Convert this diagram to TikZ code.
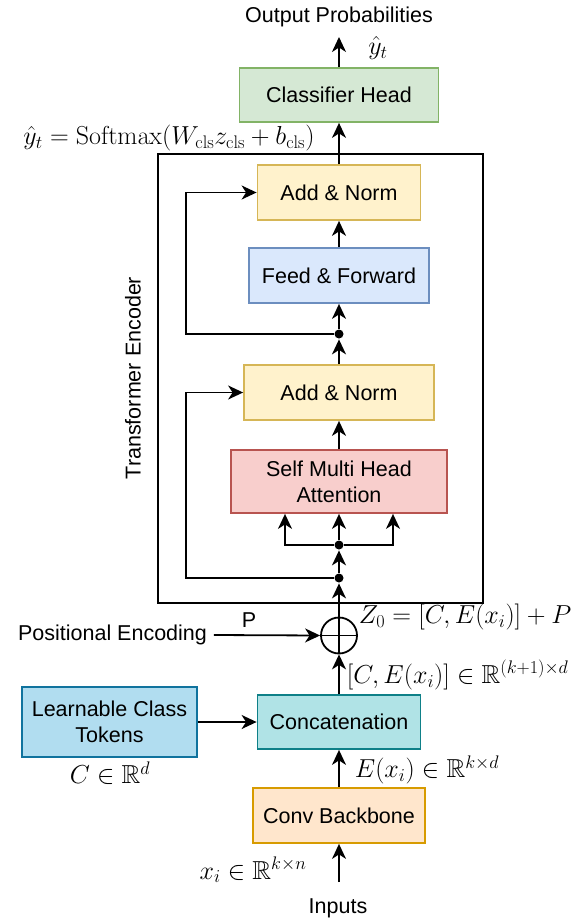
\RequirePackage{fix-cm}
\documentclass[tikz,border=0pt]{standalone}
\usepackage{amsmath,amssymb}
\usepackage[no-math]{fontspec}
\newfontfamily\arialfont{Liberation Sans}
\usetikzlibrary{arrows.meta}

% box colours (fill / stroke)
\definecolor{greenfill}{HTML}{D5E8D4}\definecolor{greenline}{HTML}{82B366}
\definecolor{yellowfill}{HTML}{FFF2CC}\definecolor{yellowline}{HTML}{D6B656}
\definecolor{bluefill}{HTML}{DAE8FC}\definecolor{blueline}{HTML}{6C8EBF}
\definecolor{redfill}{HTML}{F8CECC}\definecolor{redline}{HTML}{B85450}
\definecolor{tealfill}{HTML}{B0E3E6}\definecolor{tealline}{HTML}{0E8088}
\definecolor{skyfill}{HTML}{B1DDF0}\definecolor{skyline}{HTML}{10739E}
\definecolor{orangefill}{HTML}{FFE6CC}\definecolor{orangeline}{HTML}{D79B00}

\begin{document}
\begin{tikzpicture}[x=1pt,y=-1pt,
    font=\arialfont\fontsize{21.5}{26}\selectfont,
    >={Stealth[length=15pt,width=14pt,inset=4.5pt]},
    line width=1.8pt,
    block/.style={draw, align=center, inner sep=0pt},
    lbl/.style={inner sep=0pt},
    mathlbl/.style={lbl, font=\fontsize{26}{30}\selectfont},
    dot/.style={circle, fill, inner sep=0pt, minimum size=9pt}]
    % Define the trunk position and the skip line offset
    \def\trunk{339}
    \def\skipx{186}

    \useasboundingbox (0,0) rectangle (577,923);

    % Draw the blocks
    \node[block, fill=greenfill, draw=greenline, minimum width=199pt, minimum height=54pt] (head) at (\trunk,95) {Classifier Head};
    \node[block, fill=yellowfill, draw=yellowline, minimum width=163pt, minimum height=55pt] (norm2) at (\trunk,192.5) {Add \& Norm};
    \node[block, fill=bluefill, draw=blueline, minimum width=180pt, minimum height=55pt] (ffn) at (\trunk,275.5) {Feed \& Forward};
    \node[block, fill=yellowfill, draw=yellowline, minimum width=190pt, minimum height=55pt] (norm1) at (\trunk,392.5) {Add \& Norm};
    \node[block, fill=redfill, draw=redline, minimum width=216pt, minimum height=63pt] (attn) at (\trunk,481.5) {Self Multi Head\\Attention};
    \node[block, fill=tealfill, draw=tealline, minimum width=163pt, minimum height=54pt] (concat) at (\trunk,722) {Concatenation};
    \node[block, fill=skyfill, draw=skyline, minimum width=175pt, minimum height=70pt] (cls) at (109.5,722) {Learnable Class\\Tokens};
    \node[block, fill=orangefill, draw=orangeline, minimum width=172pt, minimum height=55pt] (conv) at (\trunk,815.5) {Conv Backbone};

    % Encoder frame
    \draw (158,154) rectangle (483,603);
    \node[lbl, rotate=90] (enc) at (133,378) {Transformer Encoder};

    % Adder and junctions
    \node[circle, draw, inner sep=0pt, minimum size=36pt] (add) at (\trunk,635.5) {};
    \draw (add.north) -- (add.south) (add.west) -- (add.east);
    \node[dot] (j1) at (\trunk,334) {};
    \node[dot] (j2) at (\trunk,545) {};
    \node[dot] (j3) at (\trunk,578) {};

    % Free ends
    \coordinate (top) at (\trunk,37);
    \coordinate (in) at (\trunk,882);

    % Text labels
    \node[lbl] (outlbl) at (\trunk,17) {Output Probabilities};
    \node[mathlbl] (yhat) at (378,48) {$\hat{y}_t$};
    \node[mathlbl] (softmax) at (169,138) {$\hat{y}_t = \mathrm{Softmax}(W_{\mathrm{cls}} z_{\mathrm{cls}} + b_{\mathrm{cls}})$};
    \node[lbl] (pos) at (112.5,635) {Positional Encoding};
    \node[lbl] (plbl) at (249,620) {P};
    \node[mathlbl, anchor=west] (zlbl) at (358,617) {$Z_0 = [C, E(x_i)] + P$};
    \node[mathlbl, anchor=west] (catlbl) at (346,675) {$[C, E(x_i)] \in \mathbb{R}^{(k+1)\times d}$};
    \node[mathlbl, anchor=west] (emblbl) at (354,770) {$E(x_i) \in \mathbb{R}^{k\times d}$};
    \node[mathlbl] (clbl) at (110,773) {$C \in \mathbb{R}^{d}$};
    \node[mathlbl] (xlbl) at (253,870) {$x_i \in \mathbb{R}^{k\times n}$};
    \node[lbl] (inlbl) at (338,908) {Inputs};

    % Main trunk
    \draw[->] (in) -- (conv.south);
    \draw[->] (conv.north) -- (concat.south);
    \draw[->] (cls.east) -- (concat.west);
    \draw[->] (concat.north) -- (add.south);
    \draw[->] ([xshift=6pt]pos.east) -- (add.west);
    \draw[->] (add.north) -- (j3);
    \draw[->] (j3) -- (j2);
    \draw[->] (j2) -- (attn.south);
    \draw[->] (j2) -| ([xshift=-54pt]attn.south);
    \draw[->] (j2) -| ([xshift=54pt]attn.south);
    \draw[->] (attn.north) -- (norm1.south);
    \draw[->] (norm1.north) -- (j1);
    \draw[->] (j1) -- (ffn.south);
    \draw[->] (ffn.north) -- (norm2.south);
    \draw[->] (norm2.north) -- (head.south);
    \draw[->] (head.north) -- (top);

    % Residual connections
    \draw[->] (j3) -- (\skipx,578) |- (norm1.west);
    \draw[->] (j1) -- (\skipx,334) |- (norm2.west);
\end{tikzpicture}
\end{document}
